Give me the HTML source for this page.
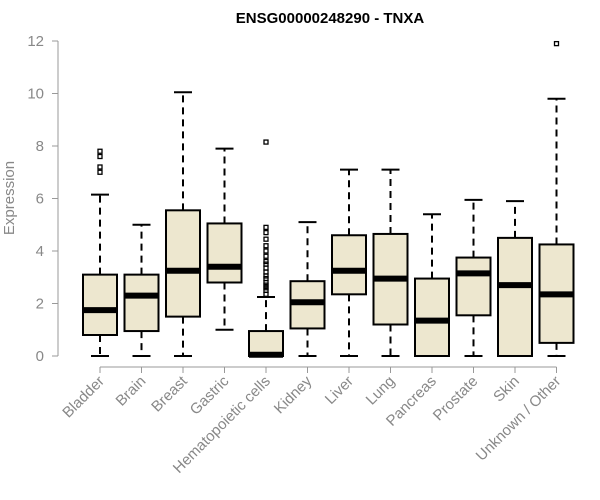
<!DOCTYPE html>
<html><head><meta charset="utf-8"><style>
body{margin:0;background:#fff;}
svg{display:block;font-family:"Liberation Sans",Arial,sans-serif;}
</style></head><body>
<svg id="chart" width="600" height="500" viewBox="0 0 600 500">
<text x="330" y="23" text-anchor="middle" font-size="15" font-weight="bold" fill="#000">ENSG00000248290 - TNXA</text>
<text transform="translate(14,198) rotate(-90)" text-anchor="middle" font-size="15" fill="#888">Expression</text>
<g id="axes"></g><g id="boxes"></g>
</svg>
<script>
const categories=["Bladder","Brain","Breast","Gastric","Hematopoietic cells","Kidney","Liver","Lung","Pancreas","Prostate","Skin","Unknown / Other"];
const whiskLow=[0,0,0,1.0,0,0,0,0,0,0,0,0];
const q1=[0.8,0.95,1.5,2.8,0,1.05,2.35,1.2,0,1.55,0,0.5];
const median=[1.75,2.3,3.25,3.4,0.05,2.05,3.25,2.95,1.35,3.15,2.7,2.35];
const q3=[3.1,3.1,5.55,5.05,0.95,2.85,4.6,4.65,2.95,3.75,4.5,4.25];
const whiskHigh=[6.15,5.0,10.05,7.9,2.25,5.1,7.1,7.1,5.4,5.95,5.9,9.8];
const outliers=[[7.0,7.2,7.6,7.8],[],[],[],[2.35,2.5,2.6,2.7,2.8,2.95,3.05,3.2,3.35,3.5,3.6,3.8,4.0,4.2,4.45,4.7,4.9,8.15],[],[],[],[],[],[],[11.9]];
const yTicks=[0,2,4,6,8,10,12];
const NS="http://www.w3.org/2000/svg";
const y=v=>356-v*26.25;
const x=i=>100+i*41.5;
function mk(tag,attrs,parent){const e=document.createElementNS(NS,tag);for(const k in attrs)e.setAttribute(k,attrs[k]);parent.appendChild(e);return e;}
const ax=document.getElementById('axes'),bx=document.getElementById('boxes');
let l=mk('line',{x1:58,x2:58,y1:y(0),y2:y(12),stroke:'#999'},ax);


yTicks.forEach(t=>{
 const tk=mk('line',{x1:52,x2:58,y1:y(t),y2:y(t),stroke:'#999'},ax);
 
 
 const tx=mk('text',{x:44,y:y(t)+5,'text-anchor':'end','font-size':15,fill:'#888'},ax);tx.textContent=t;
 
 
});
const xa=mk('line',{x1:x(0),x2:x(11),y1:367,y2:367,stroke:'#999'},ax);


categories.forEach((c,i)=>{
 const cx=x(i);
 const tk=mk('line',{x1:cx,x2:cx,y1:367,y2:373,stroke:'#999'},ax);
 
 
 const tx=mk('text',{x:cx+5,y:382,'text-anchor':'end','font-size':15,fill:'#888',transform:`rotate(-45 ${cx+5} 382)`},ax);tx.textContent=c;
 
 
 const g=mk('g',{},bx);
 
 
 mk('line',{x1:cx,x2:cx,y1:y(q3[i]),y2:y(whiskHigh[i]),stroke:'#000','stroke-width':2,'stroke-dasharray':'7,5'},g);
 mk('line',{x1:cx,x2:cx,y1:y(q1[i]),y2:y(whiskLow[i]),stroke:'#000','stroke-width':2,'stroke-dasharray':'7,5'},g);
 mk('line',{x1:cx-9,x2:cx+9,y1:y(whiskHigh[i]),y2:y(whiskHigh[i]),stroke:'#000','stroke-width':2},g);
 mk('line',{x1:cx-9,x2:cx+9,y1:y(whiskLow[i]),y2:y(whiskLow[i]),stroke:'#000','stroke-width':2},g);
 mk('rect',{x:cx-17,y:y(q3[i]),width:34,height:Math.max(y(q1[i])-y(q3[i]),0),fill:'#ede7cf',stroke:'#000','stroke-width':2},g);
 mk('line',{x1:cx-17,x2:cx+17,y1:y(median[i]),y2:y(median[i]),stroke:'#000','stroke-width':6},g);
 outliers[i].forEach(o=>{
  const p=mk('rect',{x:cx-2,y:y(o)-2,width:4,height:4,fill:'none',stroke:'#000','stroke-width':1.3},g);
  
  
 });
});
</script>
</body></html>
